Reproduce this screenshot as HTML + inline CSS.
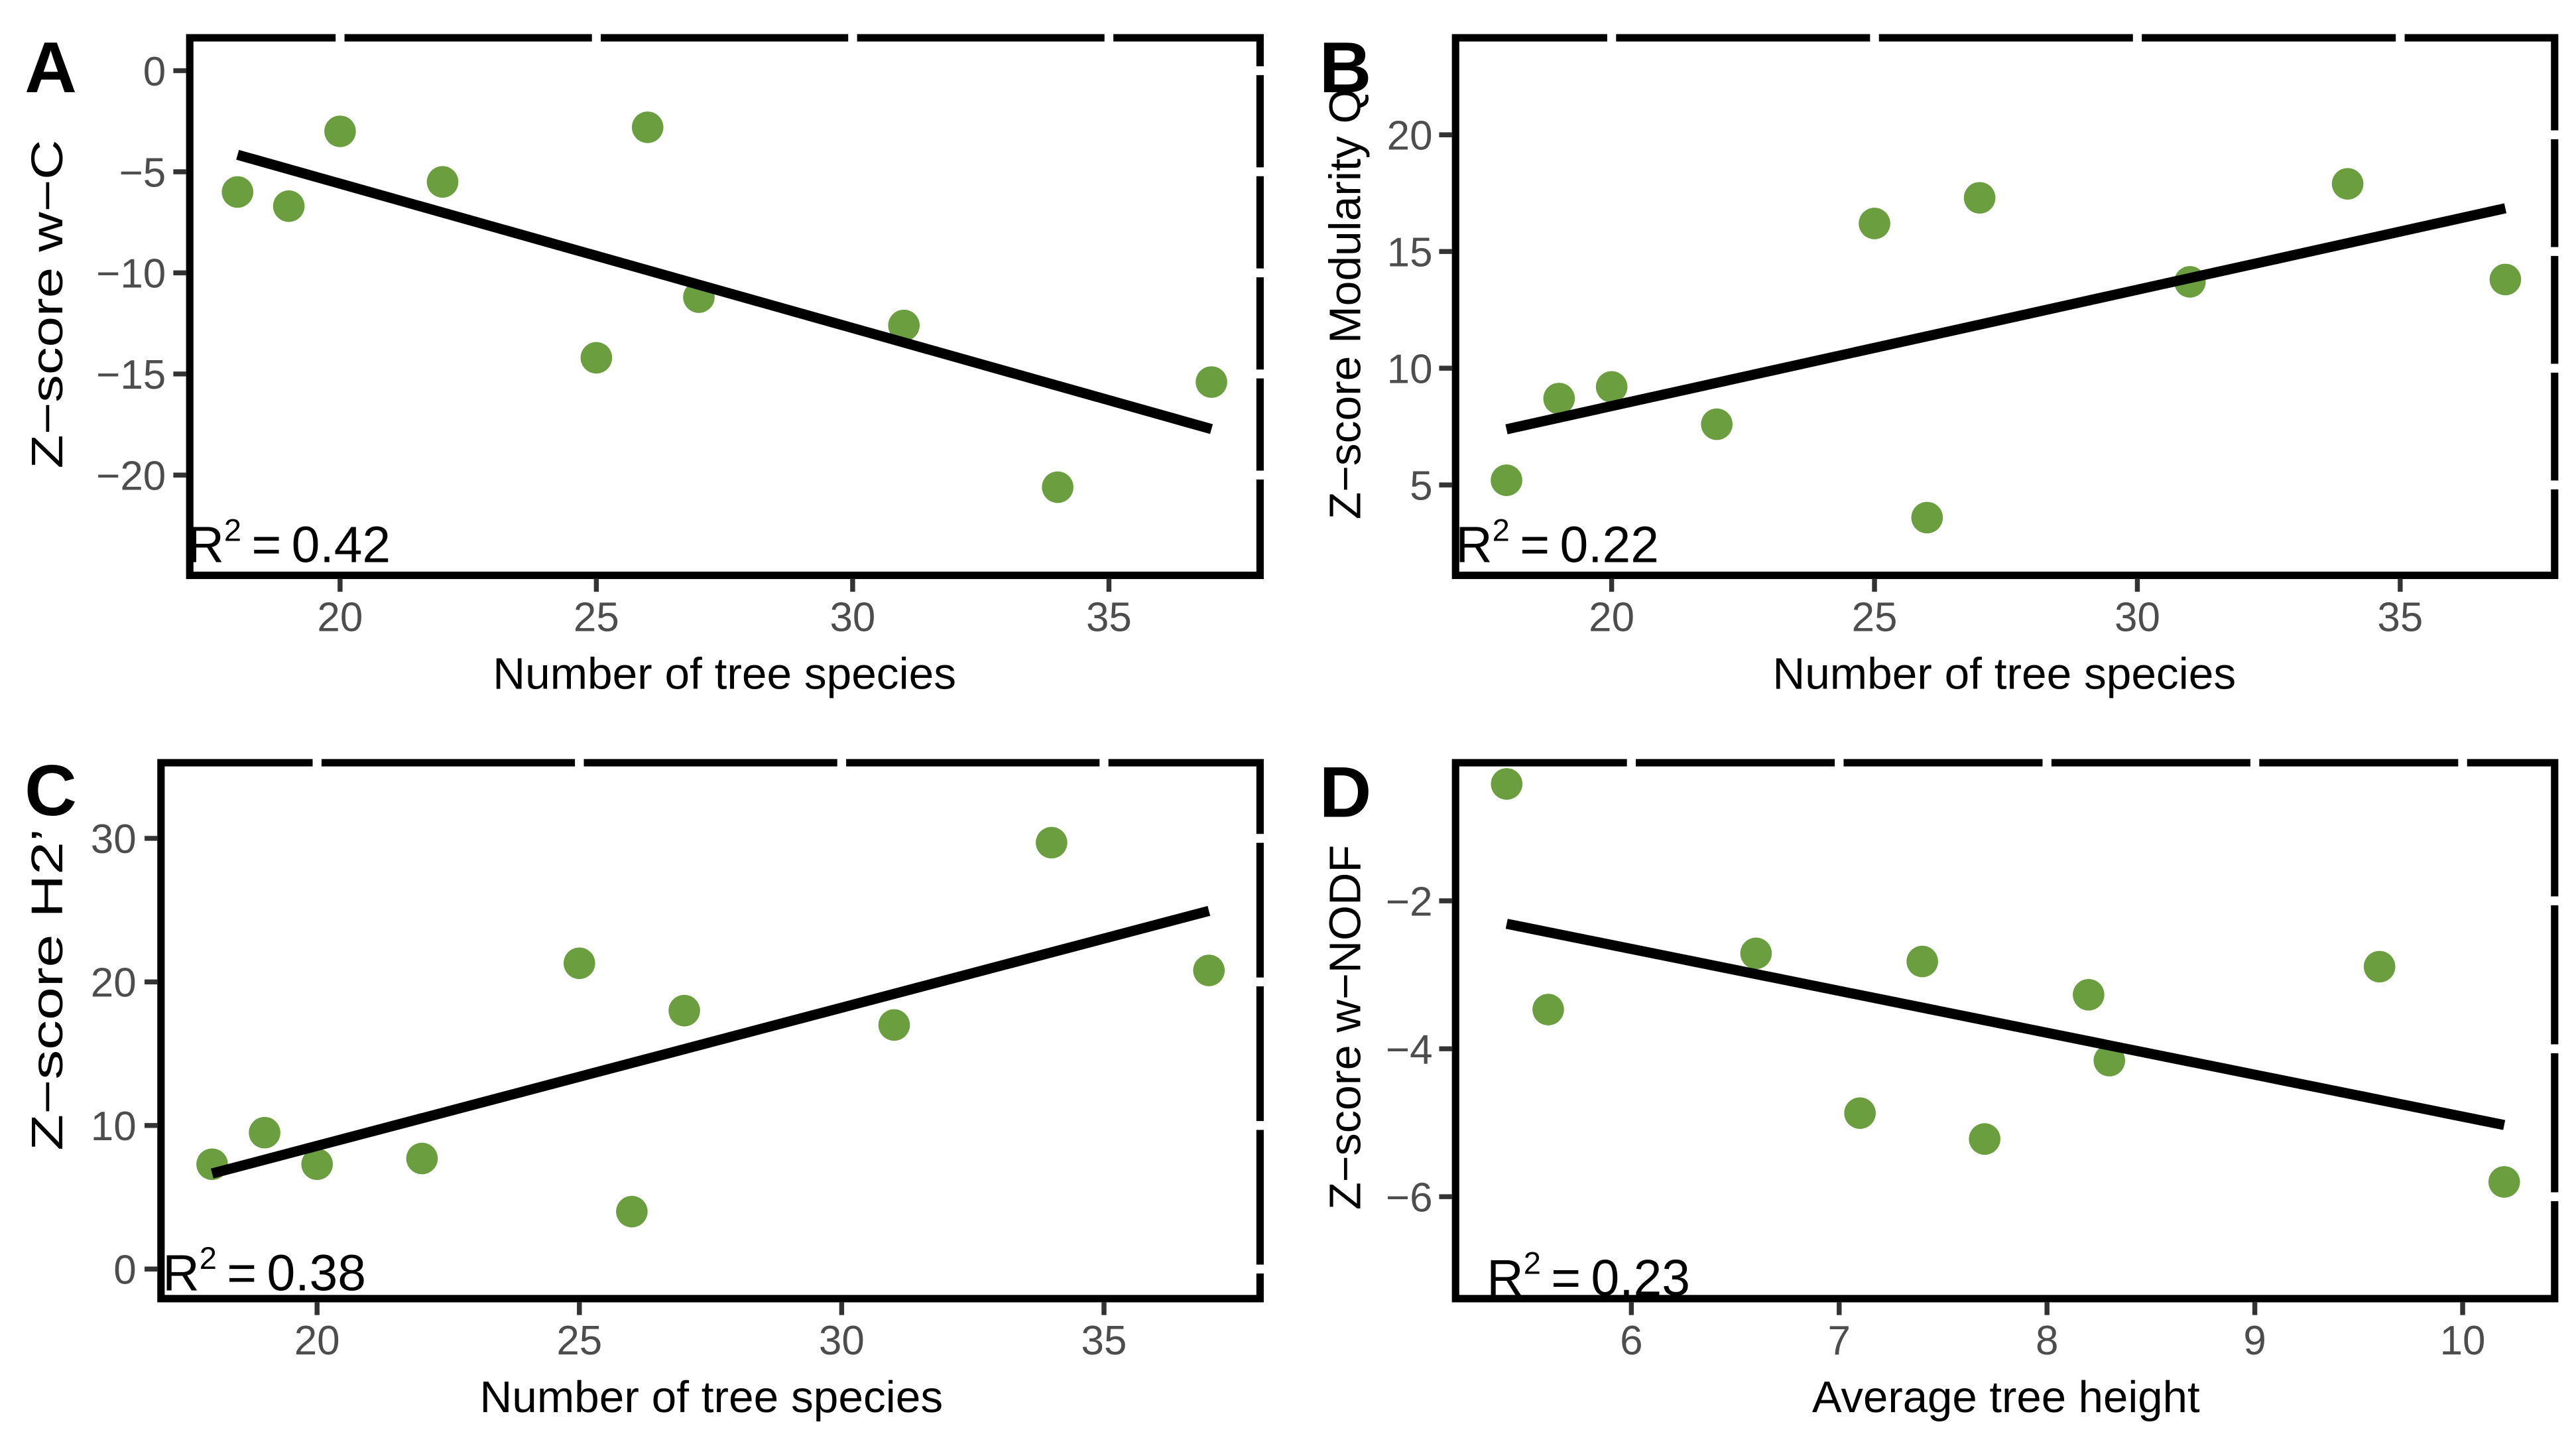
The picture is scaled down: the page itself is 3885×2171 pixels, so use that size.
<!DOCTYPE html>
<html><head><meta charset="utf-8">
<style>
html,body{margin:0;padding:0;background:#fff;}
svg{display:block;}
text{font-family:"Liberation Sans",Arial,sans-serif;}
</style></head>
<body>
<svg id="fig" width="3885" height="2171" viewBox="0 0 1568 876" preserveAspectRatio="none" xmlns="http://www.w3.org/2000/svg"></svg>
<script>
// Panel A data
const aX = [18, 19, 20, 22, 25, 26, 27, 31, 34, 37];
const aY = [-6.0, -6.7, -3.0, -5.5, -14.2, -2.8, -11.2, -12.6, -20.6, -15.4];
const aXTicks = [20, 25, 30, 35];
const aYTicks = [0, -5, -10, -15, -20];
// Panel B data
const bX = [18, 19, 20, 22, 25, 26, 27, 31, 34, 37];
const bY = [5.2, 8.7, 9.2, 7.6, 16.2, 3.6, 17.3, 13.7, 17.9, 13.8];
const bXTicks = [20, 25, 30, 35];
const bYTicks = [5, 10, 15, 20];
// Panel C data
const cX = [18, 19, 20, 22, 25, 26, 27, 31, 34, 37];
const cY = [7.3, 9.5, 7.3, 7.7, 21.3, 4.0, 18.0, 17.0, 29.7, 20.8];
const cXTicks = [20, 25, 30, 35];
const cYTicks = [0, 10, 20, 30];
// Panel D data
const dX = [5.4, 5.6, 6.6, 7.1, 7.4, 7.7, 8.2, 8.3, 9.6, 10.2];
const dY = [-0.42, -3.47, -2.71, -4.87, -2.82, -5.22, -3.27, -4.16, -2.89, -5.8];
const dXTicks = [6, 7, 8, 9, 10];
const dYTicks = [-2, -4, -6];
const r2Labels = ["0.42", "0.22", "0.38", "0.23"];

const NS = "http://www.w3.org/2000/svg";
const svg = document.getElementById('fig');
function mk(tag, attrs, parent){
  const e = document.createElementNS(NS, tag);
  for (const k in attrs) e.setAttribute(k, attrs[k]);
  (parent||svg).appendChild(e);
  return e;
}
function linmap(v0, p0, v1, p1){ return v => p0 + (v - v0) * (p1 - p0) / (v1 - v0); }

const panels = [
  {key:'a', letter:'A', xs:aX, ys:aY, xt:aXTicks, yt:aYTicks, r2:r2Labels[0],
   box:[115.5, 23, 767, 350], sx:linmap(20,207,35,675), sy:linmap(0,43,-20,289),
   ytitle:'Z\u2212score w\u2212C', ytc:185, ytl:200, xtitle:'Number of tree species', xtc:441, xtl:282,
   lx:15, ly:56, r2x:114, r2y:342, ylabX:101, ytX:38},
  {key:'b', letter:'B', xs:bX, ys:bY, xt:bXTicks, yt:bYTicks, r2:r2Labels[1],
   box:[886, 23, 1555, 350], sx:linmap(20,981,35,1461), sy:linmap(20,82,5,295),
   ytitle:'Z\u2212score Modularity Q', ytc:185, ytl:262, xtitle:'Number of tree species', xtc:1220, xtl:282,
   lx:803, ly:56, r2x:886, r2y:342, ylabX:872, ytX:828},
  {key:'c', letter:'C', xs:cX, ys:cY, xt:cXTicks, yt:cYTicks, r2:r2Labels[2],
   box:[98, 464, 767, 790], sx:linmap(20,193,35,672), sy:linmap(0,772,30,510),
   ytitle:'Z\u2212score H2\u2019', ytc:602, ytl:196, xtitle:'Number of tree species', xtc:433, xtl:282,
   lx:15, ly:496, r2x:99, r2y:785, ylabX:83, ytX:38},
  {key:'d', letter:'D', xs:dX, ys:dY, xt:dXTicks, yt:dYTicks, r2:r2Labels[3],
   box:[886, 464, 1555, 790], sx:linmap(6,993,10,1499), sy:linmap(-2,548,-6,728),
   ytitle:'Z\u2212score w\u2212NODF', ytc:625, ytl:222, xtitle:'Average tree height', xtc:1221, xtl:236,
   lx:803, ly:497, r2x:905, r2y:788, ylabX:872, ytX:828}
];

panels.forEach(p => {
  const g = mk('g', {});
  
  
  const [L, T, R, B] = p.box;

  p.xs.forEach((xv, i) => {
    const c = mk('circle', {cx:p.sx(xv), cy:p.sy(p.ys[i]), r:9.6, fill:'#6a9e3e'}, g);
    
    
  });
  const n = p.xs.length;
  const mx = p.xs.reduce((s,v)=>s+v,0)/n, my = p.ys.reduce((s,v)=>s+v,0)/n;
  let sxy = 0, sxx = 0;
  p.xs.forEach((xv,i)=>{ sxy += (xv-mx)*(p.ys[i]-my); sxx += (xv-mx)*(xv-mx); });
  const slope = sxy/sxx, icpt = my - slope*mx;
  const x0 = Math.min(...p.xs), x1 = Math.max(...p.xs);
  const ln = mk('line', {x1:p.sx(x0), y1:p.sy(icpt+slope*x0), x2:p.sx(x1), y2:p.sy(icpt+slope*x1), stroke:'#000', 'stroke-width':6.2}, g);
  
  

  const rt = mk('text', {x:p.r2x, y:p.r2y, 'font-size':31, fill:'#000'}, g);
  
  
  rt.appendChild(document.createTextNode('R'));
  const sup = mk('tspan', {'font-size':19, dy:-13}, rt);
  sup.textContent = '2';
  const rest = mk('tspan', {dy:13}, rt);
  rest.textContent = '\u2009=\u20090.' + p.r2.split('.')[1];

  const fr = mk('rect', {x:L, y:T, width:R-L, height:B-T, fill:'none', stroke:'#000', 'stroke-width':4.5}, g);
  
  
  p.xt.forEach(v => {
    const gp = mk('rect', {x:p.sx(v)-2.7, y:T-3, width:5.4, height:6, fill:'#fff'}, g);
    
    
  });
  p.yt.forEach(v => {
    const gp = mk('rect', {x:R-3, y:p.sy(v)-2.7, width:6, height:5.4, fill:'#fff'}, g);
    
    
  });

  p.xt.forEach(v => {
    const t = mk('line', {x1:p.sx(v), y1:B+2, x2:p.sx(v), y2:B+10, stroke:'#333', 'stroke-width':3}, g);
    
    
    const tl = mk('text', {x:p.sx(v), y:B+34, 'font-size':25, fill:'#4d4d4d', 'text-anchor':'middle'}, g);
    
    
    tl.textContent = String(v);
  });
  p.yt.forEach(v => {
    const t = mk('line', {x1:L-10, y1:p.sy(v), x2:L-2, y2:p.sy(v), stroke:'#333', 'stroke-width':3}, g);
    
    
    const tl = mk('text', {x:p.ylabX, y:p.sy(v)+9, 'font-size':25, fill:'#4d4d4d', 'text-anchor':'end'}, g);
    
    
    tl.textContent = String(v).replace('-', '\u2212');
  });
  const xt = mk('text', {x:p.xtc, y:B+69, 'font-size':27, fill:'#000', 'text-anchor':'middle', textLength:p.xtl, lengthAdjust:'spacingAndGlyphs'}, g);
  
  
  xt.textContent = p.xtitle;
  const yt = mk('text', {x:0, y:0, 'font-size':27, fill:'#000', 'text-anchor':'middle', textLength:p.ytl, lengthAdjust:'spacingAndGlyphs', transform:`translate(${p.ytX},${p.ytc}) rotate(-90)`}, g);
  
  
  yt.textContent = p.ytitle;
  const lt = mk('text', {x:p.lx, y:p.ly, 'font-size':44, 'font-weight':'bold', fill:'#000'}, g);
  
  
  lt.textContent = p.letter;
});
</script>
</body></html>
